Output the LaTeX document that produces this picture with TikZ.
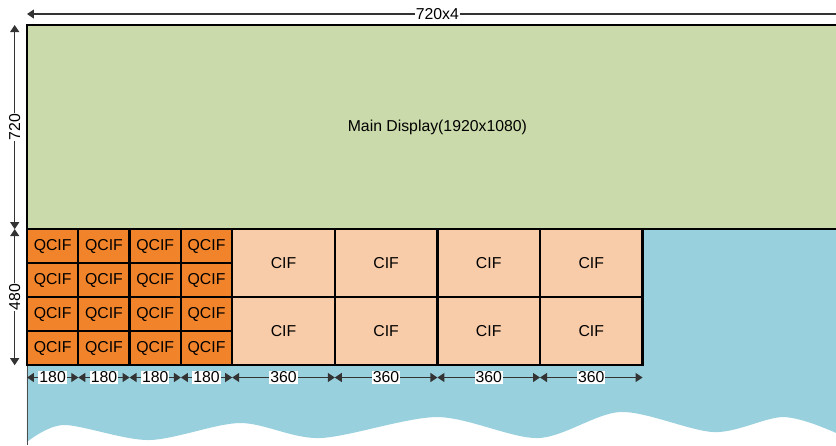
\documentclass[tikz,border=0pt]{standalone}
\usepackage{fontspec}
\setmainfont{Liberation Sans}
\usetikzlibrary{arrows.meta}
\definecolor{screen}{RGB}{203,218,170}
\definecolor{sea}{RGB}{153,208,222}
\definecolor{qcifcol}{RGB}{241,131,42}
\definecolor{cifcol}{RGB}{249,204,169}
\tikzset{
    box/.style={draw, line width=2.3pt, outer sep=0pt, inner sep=0pt},
    dim/.style={{Triangle[length=7pt,width=9pt]}-{Triangle[length=7pt,width=9pt]}, line width=1.3pt, black!80},
    tag/.style={midway, fill=white, inner sep=1pt, text=black}
}
\begin{document}
\begin{tikzpicture}[x=0.285pt, y=-0.2835pt, font=\fontsize{15.8}{19}\selectfont]
            \useasboundingbox (-94.7,-88.2) rectangle (2838.6,1481.5);
            \fill[sea] (0,720) -- (2900,720) -- (2900,1481.5) -- plot[smooth] coordinates {(2877,1481.5) (2839,1439) (2653,1383) (2411,1436) (2084,1365) (1793,1457) (1439,1383) (1028,1457) (747,1404) (428,1464) (130,1411) (0,1471)} -- cycle;
            \draw[black!70, line width=0.8pt] (0,720) -- (0,1481.5);
            \node[box, fill=screen, minimum width=820.8pt, minimum height=204.1pt] (main) at (1440,360) {Main Display(1920x1080)};
            \foreach \i in {1,...,4} {
                \foreach \j in {1,...,4} {
                    \node[box, fill=qcifcol, minimum width=51.3pt, minimum height=34.02pt] (q-\j-\i) at ({180*\i-90},{720+120*\j-60}) {QCIF};
                }
            }
            \foreach \i in {1,...,4} {
                \foreach \j in {1,2} {
                    \node[box, fill=cifcol, minimum width=102.6pt, minimum height=68.04pt] (c-\j-\i) at ({720+360*\i-180},{720+240*\j-120}) {CIF};
                }
            }
            \foreach \i in {1,...,4} {
                \draw[dim] ([yshift=-12.3pt]q-4-\i.south west) -- ([yshift=-12.3pt]q-4-\i.south east) node[tag]{180};
                \draw[dim] ([yshift=-12.3pt]c-2-\i.south west) -- ([yshift=-12.3pt]c-2-\i.south east) node[tag]{360};
            }
            \draw[dim] ([yshift=11pt]main.north west) -- ([yshift=11pt]main.north east) node[tag]{720x4};
            \draw[dim] ([xshift=-12.3pt]main.north west) -- ([xshift=-12.3pt]main.south west) node[tag, rotate=90]{720};
            \draw[dim] ([xshift=-12.3pt]q-1-1.north west) -- ([xshift=-12.3pt]q-4-1.south west) node[tag, rotate=90]{480};
        \end{tikzpicture}
\end{document}
